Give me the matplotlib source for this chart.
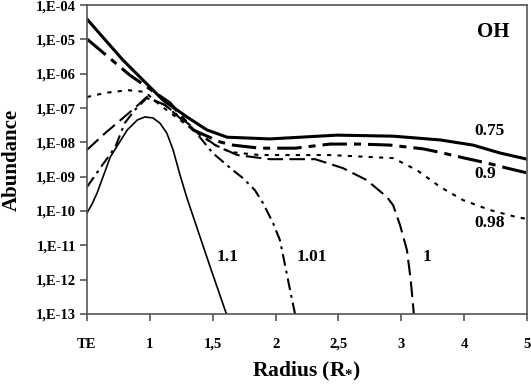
import numpy as np
import matplotlib
matplotlib.use('Agg')
import matplotlib.pyplot as plt

plt.rcParams['font.family'] = ['Liberation Serif', 'DejaVu Serif']
plt.rcParams['font.weight'] = 'bold'
plt.rcParams['mathtext.fontset'] = 'custom'
plt.rcParams['mathtext.rm'] = 'Liberation Serif:bold'
plt.rcParams['mathtext.default'] = 'rm'

# x axis is a category axis: TE, 1, 1,5, 2, 2,5, 3, 4, 5 (positions 0..7)
tick_labels = ['TE', '1', '1,5', '2', '2,5', '3', '4', '5']
y_tick_labels = ['1,E-13', '1,E-12', '1,E-11', '1,E-10', '1,E-09',
                 '1,E-08', '1,E-07', '1,E-06', '1,E-05', '1,E-04']

# curves: x position, log10(abundance)
x_075 = [0.00, 0.57, 1.21, 1.59, 1.91, 2.23, 2.91, 3.98, 4.87, 5.62, 6.14, 6.57, 7.00]
y_075 = [-4.41, -5.60, -6.77, -7.26, -7.64, -7.85, -7.90, -7.79, -7.82, -7.93, -8.08, -8.31, -8.49]

x_09 = [0.00, 0.68, 1.32, 1.69, 2.12, 2.32, 2.75, 3.31, 3.87, 4.34, 4.82, 5.35, 5.66, 6.01, 6.36, 6.68, 7.00]
y_09 = [-4.99, -6.04, -6.85, -7.64, -7.99, -8.08, -8.17, -8.17, -8.05, -8.05, -8.08, -8.19, -8.31, -8.46, -8.60, -8.75, -8.89]

x_098 = [0.00, 0.29, 0.65, 0.92, 1.16, 1.48, 1.80, 2.04, 2.27, 2.75, 3.87, 4.87, 5.25, 5.62, 5.98, 6.41, 6.84, 7.00]
y_098 = [-6.68, -6.56, -6.48, -6.53, -6.91, -7.35, -7.79, -8.08, -8.28, -8.37, -8.37, -8.46, -8.81, -9.30, -9.68, -9.97, -10.18, -10.23]

x_1 = [0.00, 0.29, 0.76, 0.95, 1.24, 1.64, 2.04, 2.39, 2.91, 3.63, 4.07, 4.45, 4.77, 4.87, 4.98, 5.09, 5.15, 5.20]
y_1 = [-8.22, -7.73, -7.00, -6.68, -6.91, -7.55, -8.08, -8.37, -8.49, -8.49, -8.75, -9.10, -9.59, -9.83, -10.41, -11.14, -12.01, -13.00]

x_101 = [0.00, 0.21, 0.45, 0.60, 0.76, 0.95, 1.24, 1.64, 2.00, 2.32, 2.48, 2.67, 2.80, 2.96, 3.07, 3.15, 3.23, 3.31]
y_101 = [-9.30, -8.75, -8.14, -7.44, -7.06, -6.71, -6.91, -7.50, -8.31, -8.81, -9.04, -9.39, -9.77, -10.35, -10.85, -11.57, -12.30, -13.00]

x_11 = [0.00, 0.08, 0.16, 0.37, 0.64, 0.80, 0.92, 1.05, 1.16, 1.27, 1.37, 1.48, 1.59, 1.96, 2.23]
y_11 = [-10.06, -9.80, -9.48, -8.43, -7.64, -7.35, -7.26, -7.29, -7.44, -7.73, -8.22, -8.95, -9.62, -11.63, -13.06]

fig = plt.figure(figsize=(5.31, 3.86), dpi=100)
ax = fig.add_axes([0.1638, 0.1865, 0.8287, 0.8005])

ax.plot(x_075, 10 ** np.array(y_075), color='black', lw=2.2, linestyle='-')
ax.plot(x_09, 10 ** np.array(y_09), color='black', lw=2.2, linestyle=(0, (8, 2.3, 2.3, 2.3)))
ax.plot(x_098, 10 ** np.array(y_098), color='black', lw=1.5, linestyle=(0, (2, 3)))
ax.plot(x_1, 10 ** np.array(y_1), color='black', lw=1.5, linestyle=(0, (7.5, 3)))
ax.plot(x_101, 10 ** np.array(y_101), color='black', lw=1.5, linestyle=(0, (5.7, 2.4, 1.4, 2.4)))
ax.plot(x_11, 10 ** np.array(y_11), color='black', lw=1.2, linestyle='-')

ax.set_yscale('log')
ax.set_ylim(1e-13, 1e-4)
ax.set_xlim(0, 7)

ax.set_yticks([10.0 ** k for k in range(-13, -3)])
ax.set_yticklabels(y_tick_labels)
ax.yaxis.set_minor_locator(matplotlib.ticker.NullLocator())
ax.set_xticks(range(len(tick_labels)))
ax.set_xticklabels(tick_labels)

ax.tick_params(axis='both', direction='out', length=5, width=1.2, color='#555555',
               labelsize=10.5, pad=3)
ax.tick_params(axis='x', pad=12)
for sp in ax.spines.values():
    sp.set_color('#555555')
    sp.set_linewidth(1.2)

ax.set_ylabel('Abundance', fontsize=15, fontweight='bold', labelpad=10)
ax.set_xlabel('Radius (R$_{*}$)', fontsize=15.5, fontweight='bold', labelpad=7)

# curve labels
lab = dict(fontsize=12.5, fontweight='bold', ha='center', va='center')
ax.text(6.46, 10 ** -4.79, 'OH', fontsize=15, fontweight='bold', ha='center', va='center')
ax.text(6.40, 10 ** -7.67, '0.75', **lab)
ax.text(6.33, 10 ** -8.91, '0.9', **lab)
ax.text(6.40, 10 ** -10.35, '0.98', **lab)
ax.text(5.41, 10 ** -11.34, '1', **lab)
ax.text(3.58, 10 ** -11.34, '1.01', **lab)
ax.text(2.24, 10 ** -11.34, '1.1', **lab)

plt.savefig('out.png', dpi=100)
plt.close()
